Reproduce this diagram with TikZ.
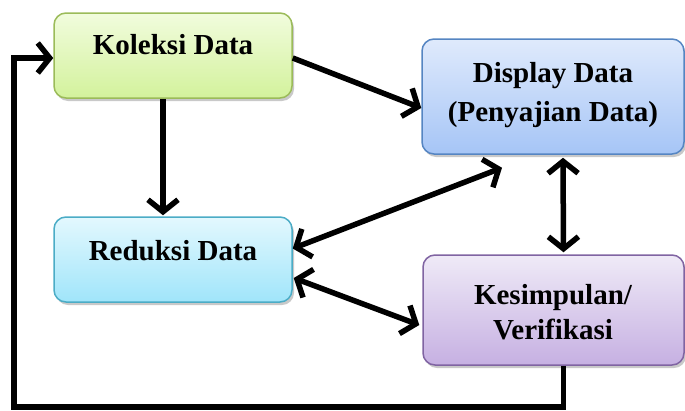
\documentclass[tikz,border=0pt]{standalone}
\usepackage{fontspec}
\setmainfont{Liberation Serif}[BoldFont={Liberation Serif Bold}]
\newfontfamily\diagfont{Liberation Serif Bold}
\usetikzlibrary{arrows.meta,shadows}
\definecolor{gB}{HTML}{9BBB59}\definecolor{gT}{HTML}{F1FCDD}\definecolor{gBo}{HTML}{D3F29C}
\definecolor{bB}{HTML}{5585C2}\definecolor{bT}{HTML}{DFEAFC}\definecolor{bBo}{HTML}{A6C5F6}
\definecolor{cB}{HTML}{4BACC6}\definecolor{cT}{HTML}{E3F8FE}\definecolor{cBo}{HTML}{A0E5FA}
\definecolor{pB}{HTML}{8064A2}\definecolor{pT}{HTML}{EFEAF7}\definecolor{pBo}{HTML}{C6B0E2}
\begin{document}
\begin{tikzpicture}[x=1pt,y=-1pt,
  box/.style={rectangle, rounded corners=12pt, line width=1.5pt, inner sep=0pt,
    drop shadow={shadow xshift=2pt,shadow yshift=-3pt,opacity=0.3,fill=black!70}},
  lbl/.style={font=\diagfont\fontsize{29}{37}\selectfont, align=center, text=black, inner sep=0pt},
  conn/.style={line width=5.5pt, line join=miter, -{Straight Barb[length=12pt,width=30pt]}},
  bconn/.style={line width=5.5pt, {Straight Barb[length=12pt,width=30pt]}-{Straight Barb[length=12pt,width=30pt]}}
]
\useasboundingbox (0,0) rectangle (685,410);
\node[box, draw=gB, top color=gT, bottom color=gBo, minimum width=238pt, minimum height=85pt] (kol) at (173,55.5) {};
\node[box, draw=bB, top color=bT, bottom color=bBo, minimum width=262pt, minimum height=115pt] (disp) at (553,96.5) {};
\node[box, draw=cB, top color=cT, bottom color=cBo, minimum width=238pt, minimum height=85pt] (red) at (173,259.5) {};
\node[box, draw=pB, top color=pT, bottom color=pBo, minimum width=261pt, minimum height=110pt] (kes) at (553.5,310) {};
\node[lbl] (kolt) at (173,45) {Koleksi Data};
\node[lbl, font=\diagfont\fontsize{29}{39}\selectfont] (dispt) at (553,95) {Display Data\\(Penyajian Data)};
\node[lbl, font=\diagfont\fontsize{29}{35}\selectfont] (kest) at (553,312) {Kesimpulan/\\Verifikasi};
\node[lbl] (redt) at (173,251) {Reduksi Data};
\coordinate (c1) at (14,407);
\draw[conn] ([xshift=-10pt]kol.south) -- ([xshift=-10pt,yshift=1pt]red.north);
\draw[conn] ([yshift=-2.5pt]kol.east) -- ([yshift=-11.5pt]disp.west);
\draw[bconn] ([yshift=11pt]red.east) -- ([xshift=-51pt,yshift=-13pt]disp.south);
\draw[bconn] ([xshift=10pt,yshift=-3pt]disp.south) -- ([xshift=10pt,yshift=2pt]kes.north);
\draw[bconn] ([xshift=1pt,yshift=-18.5pt]red.east) -- ([xshift=-3pt,yshift=-15pt]kes.west);
\draw[conn] ([xshift=10pt]kes.south) |- (c1) |- ([yshift=-2.5pt]kol.west);
\end{tikzpicture}
\end{document}
